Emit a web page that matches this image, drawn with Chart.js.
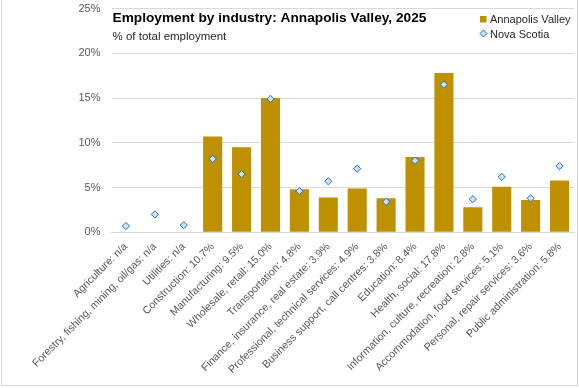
<!DOCTYPE html>
<html>
<head>
<meta charset="utf-8">
<script src="https://cdn.jsdelivr.net/npm/chart.js@4"></script>
<style>
  html, body { margin: 0; padding: 0; background: #fff; }
  #wrap { width: 579px; height: 388px; position: relative; }
</style>
</head>
<body>
<div id="wrap"><canvas id="chart" width="579" height="388"></canvas></div>
<script>
// categories and values
const categories = [
    'Agriculture: n/a',
    'Forestry, fishing, mining, oil/gas: n/a',
    'Utilities: n/a',
    'Construction: 10.7%',
    'Manufacturing: 9.5%',
    'Wholesale, retail: 15.0%',
    'Transportation: 4.8%',
    'Finance, insurance, real estate: 3.9%',
    'Professional, technical services: 4.9%',
    'Business support, call centres: 3.8%',
    'Education: 8.4%',
    'Health, social: 17.8%',
    'Information, culture, recreation: 2.8%',
    'Accommodation, food services: 5.1%',
    'Personal, repair services: 3.6%',
    'Public administration: 5.8%'
];
const annapolisValley = [null, null, null, 10.7, 9.5, 15.0, 4.8, 3.9, 4.9, 3.8, 8.4, 17.8, 2.8, 5.1, 3.6, 5.8];
const novaScotia = [0.7, 2.0, 0.8, 8.2, 6.5, 14.9, 4.6, 5.7, 7.1, 3.4, 8.0, 16.5, 3.7, 6.2, 3.8, 7.4];
const yTicks = [0, 5, 10, 15, 20, 25];

const titleText = 'Employment by industry: Annapolis Valley, 2025';
const subtitleText = '% of total employment';

const gold = '#BF9000';
const diamondFill = '#C9E2F6';
const diamondLine = '#2470B8';

// 📌 title, subtitle, legend and frame drawn on top of the plot area
const overlay = {
    id: 'overlay',
    afterDraw(chart) {
        const ctx = chart.ctx;
        const left = chart.chartArea.left + 1;
        const bars = chart.data.datasets.find(d => d.type === 'bar');
        const points = chart.data.datasets.find(d => d.type === 'line');
        ctx.save();
        ctx.textBaseline = 'alphabetic';
        ctx.textAlign = 'left';

        ctx.fillStyle = '#000';
        ctx.font = 'bold 13.7px "Liberation Sans", Arial, sans-serif';
        ctx.fillText(titleText, left, 22);

        ctx.fillStyle = '#262626';
        ctx.font = '11.5px "Liberation Sans", Arial, sans-serif';
        ctx.fillText(subtitleText, left, 40);

        // legend
        ctx.font = '11px "Liberation Sans", Arial, sans-serif';
        ctx.fillStyle = bars.backgroundColor;
        ctx.fillRect(480, 16, 6.5, 6.5);
        ctx.fillStyle = '#262626';
        ctx.fillText(bars.label, 490, 23);

        ctx.beginPath();
        ctx.moveTo(483.5, 30);
        ctx.lineTo(487, 33.5);
        ctx.lineTo(483.5, 37);
        ctx.lineTo(480, 33.5);
        ctx.closePath();
        ctx.fillStyle = points.backgroundColor;
        ctx.fill();
        ctx.lineWidth = 1;
        ctx.strokeStyle = points.borderColor;
        ctx.stroke();
        ctx.fillStyle = '#262626';
        ctx.fillText(points.label, 490, 38);

        // outer frame
        ctx.strokeStyle = '#d9d9d9';
        ctx.lineWidth = 1;
        ctx.strokeRect(1.5, -1, 576, 386.5);
        ctx.restore();
    }
};

new Chart(document.getElementById('chart'), {
    data: {
        labels: categories,
        datasets: [
            {
                type: 'line',
                label: 'Nova Scotia',
                data: novaScotia,
                showLine: false,
                pointStyle: 'rectRot',
                pointRadius: 3.6,
                pointBorderWidth: 1,
                backgroundColor: diamondFill,
                borderColor: diamondLine,
                order: 0
            },
            {
                type: 'bar',
                label: 'Annapolis Valley',
                data: annapolisValley,
                backgroundColor: gold,
                categoryPercentage: 1,
                barPercentage: 0.66,
                order: 1
            }
        ]
    },
    options: {
        responsive: false,
        animation: false,
        events: [],
        layout: { padding: { left: 0, right: 4.5, top: 8.5, bottom: 0 } },
        plugins: {
            legend: { display: false },
            title: { display: false },
            tooltip: { enabled: false }
        },
        scales: {
            x: {
                grid: { display: false },
                border: { color: '#d9d9d9' },
                ticks: {
                    minRotation: 45,
                    maxRotation: 45,
                    autoSkip: false,
                    color: '#595959',
                    padding: 0,
                    font: { family: '"Liberation Sans", Arial, sans-serif', size: 10.7 }
                },
                afterFit(scale) { scale.height = 155.7; }
            },
            y: {
                min: 0,
                max: 25,
                afterBuildTicks(scale) { scale.ticks = yTicks.map(v => ({ value: v })); },
                grid: { color: '#d9d9d9', drawTicks: false },
                border: { display: false },
                ticks: {
                    color: '#595959',
                    padding: 11,
                    callback: v => v + '%',
                    font: { family: '"Liberation Sans", Arial, sans-serif', size: 11 }
                },
                afterFit(scale) {
                    scale.width = 111.5;
                    // tick padding would otherwise push the plot top down
                    scale.paddingTop = 0;
                    scale.paddingBottom = 0;
                }
            }
        }
    },
    plugins: [overlay]
});
</script>
</body>
</html>
